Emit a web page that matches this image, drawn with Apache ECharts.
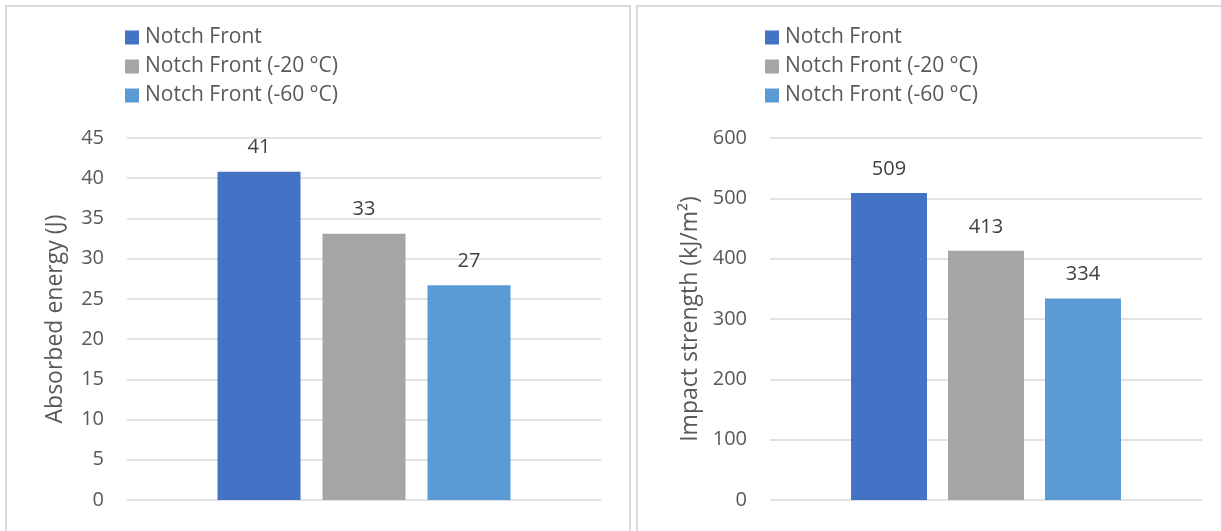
<!DOCTYPE html>
<html>
<head>
<meta charset="utf-8">
<style>
  html, body { margin: 0; padding: 0; background: #fff; }
  #chart { width: 1221px; height: 531px; }
</style>
<script src="https://cdn.jsdelivr.net/npm/echarts@6/dist/echarts.min.js"></script>
</head>
<body>
<div id="chart"></div>
<script>
// Notched impact test results, three test temperatures
const seriesNames = ['Notch Front', 'Notch Front (-20 °C)', 'Notch Front (-60 °C)'];
const seriesColors = ['#4472C4', '#A5A5A5', '#5B9BD5'];
const absorbedEnergy = [40.8, 33.1, 26.7];      // J
const impactStrength = [509, 413, 334];         // kJ/m²
const energyTicks = { min: 0, max: 45, interval: 5 };
const strengthTicks = { min: 0, max: 600, interval: 100 };

const FONT = '"Open Sans", "Noto Sans", sans-serif';
const TEXT = '#595959';

const chart = echarts.init(document.getElementById('chart'), null, { renderer: 'canvas' });

function yAxis(grid, ticks, title, gap) {
  return {
    type: 'value', gridIndex: grid,
    min: ticks.min, max: ticks.max, interval: ticks.interval,
    axisLine: { show: false }, axisTick: { show: false },
    axisLabel: { color: TEXT, fontSize: 20, fontFamily: FONT, margin: 23 },
    splitLine: { lineStyle: { color: '#D9D9D9', width: 1.5 } },
    name: title, nameLocation: 'middle', nameGap: gap,
    nameTextStyle: { color: TEXT, fontSize: 23, fontFamily: FONT }
  };
}

function barSeries(values, grid, width, gap) {
  return values.map((v, i) => ({
    type: 'bar', name: seriesNames[i],
    xAxisIndex: grid, yAxisIndex: grid,
    data: [v], barWidth: width, barGap: gap,
    itemStyle: { color: seriesColors[i] },
    label: {
      show: true, position: 'top', distance: 14,
      color: '#404040', fontSize: 20, fontFamily: FONT,
      formatter: p => Math.round(p.value)
    }
  }));
}

function legend(left) {
  return {
    left: left, top: 27, orient: 'vertical', padding: 0,
    itemWidth: 14, itemHeight: 14, itemGap: 8, icon: 'rect',
    data: seriesNames,
    textStyle: { color: TEXT, fontSize: 21, lineHeight: 21, fontFamily: FONT, padding: [0, 0, 0, 1] },
    selectedMode: false
  };
}

chart.setOption({
  animation: false,
  graphic: [
    { type: 'rect', shape: { x: 6, y: 6, width: 624, height: 600 },
      style: { fill: 'none', stroke: '#D9D9D9', lineWidth: 2 } },
    { type: 'rect', shape: { x: 637, y: 6, width: 700, height: 600 },
      style: { fill: 'none', stroke: '#D9D9D9', lineWidth: 2 } }
  ],
  legend: [legend(125), legend(765)],
  grid: [
    { left: 127, width: 474, top: 138, bottom: 31 },
    { left: 770, width: 432, top: 138, bottom: 31 }
  ],
  xAxis: [
    { type: 'category', gridIndex: 0, data: [''], axisLine: { show: false },
      axisTick: { show: false }, axisLabel: { show: false } },
    { type: 'category', gridIndex: 1, data: [''], axisLine: { show: false },
      axisTick: { show: false }, axisLabel: { show: false } }
  ],
  yAxis: [
    yAxis(0, energyTicks, 'Absorbed energy (J)', 60),
    yAxis(1, strengthTicks, 'Impact strength (kJ/m²)', 68)
  ],
  series: [
    ...barSeries(absorbedEnergy, 0, 83, '26.5%'),
    ...barSeries(impactStrength, 1, 76, '27.6%')
  ]
});
</script>
</body>
</html>
